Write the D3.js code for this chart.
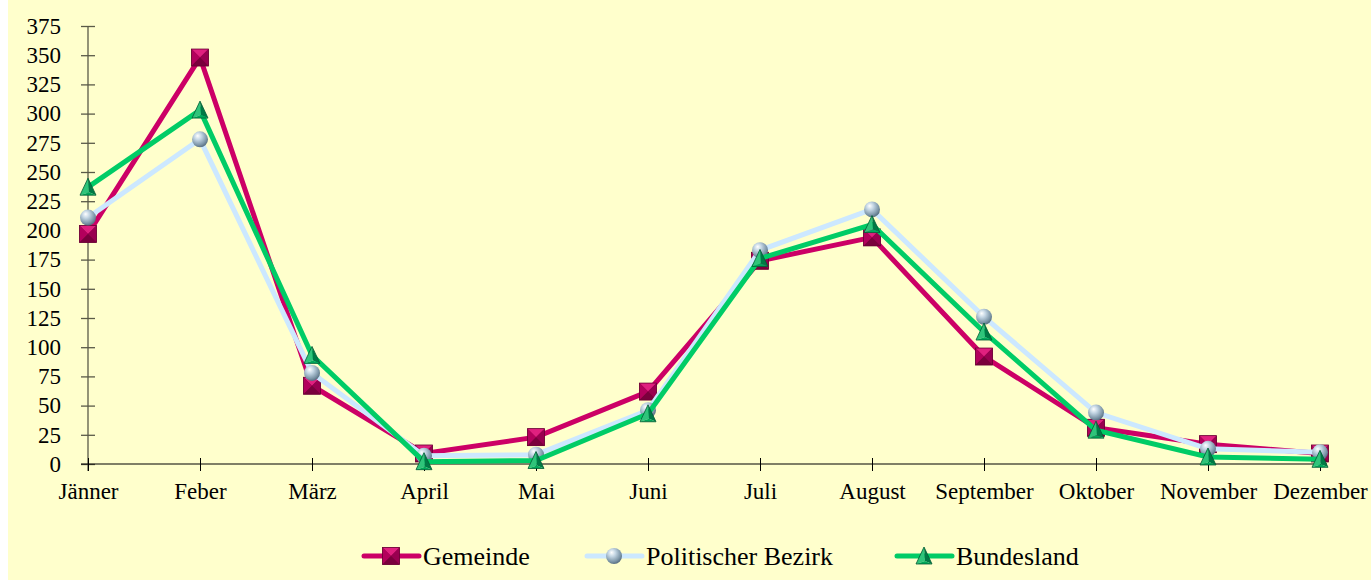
<!DOCTYPE html>
<html>
<head>
<meta charset="utf-8">
<script src="https://cdn.jsdelivr.net/npm/d3@7"></script>
<style>
  body { margin: 0; background: #fff; }
  svg { display: block; font-family: "Liberation Serif", "Times New Roman", serif; }
</style>
</head>
<body>
<div id="chart"></div>
<script>
var months = ["Jänner", "Feber", "März", "April", "Mai", "Juni", "Juli", "August", "September", "Oktober", "November", "Dezember"];
var gemeinde = [197, 348, 67, 9, 23, 62, 174, 194, 92, 31, 17, 9];
var bezirk = [211, 278, 78, 7, 8, 46, 183, 218, 126, 44, 13, 10];
var bundesland = [237, 303, 93, 2, 3, 43, 176, 205, 113, 29, 6, 4];
var yTicks = d3.range(0, 376, 25);

var width = 1371, height = 581;

var svg = d3.select('#chart')
    .append('svg')
    .attr('width', width)
    .attr('height', height);

var defs = svg.append('defs');

// background panel
svg.append('rect')
    .attr('x', 8).attr('y', 0)
    .attr('width', width - 8).attr('height', 580)
    .attr('fill', '#ffffcc');

var x = d3.scalePoint().domain(months).range([88, 1320]);
var y = d3.scaleLinear().domain([0, 375]).range([464, 26]);

// sphere gradient for the Bezirk markers
var grad = defs.append('radialGradient')
    .attr('id', 'sphere')
    .attr('cx', '40%').attr('cy', '35%').attr('r', '65%')
    .attr('fx', '35%').attr('fy', '28%');
grad.append('stop').attr('offset', '0%').attr('stop-color', '#ffffff');
grad.append('stop').attr('offset', '35%').attr('stop-color', '#c4d6e4');
grad.append('stop').attr('offset', '80%').attr('stop-color', '#7d96a8');
grad.append('stop').attr('offset', '100%').attr('stop-color', '#5b7284');

// marker shapes
function squareMarker(g, s) {
    var h = s / 2;
    g.append('rect').attr('x', -h).attr('y', -h).attr('width', s).attr('height', s).attr('fill', '#8a0044');
    g.append('polygon').attr('points', [[-h, -h], [h, -h], [0, 0]].join(' ')).attr('fill', '#e0207f');
    g.append('polygon').attr('points', [[-h, -h], [-h, h], [0, 0]].join(' ')).attr('fill', '#b3005c');
    g.append('polygon').attr('points', [[h, -h], [h, h], [0, 0]].join(' ')).attr('fill', '#990050');
    g.append('polygon').attr('points', [[-h, h], [h, h], [0, 0]].join(' ')).attr('fill', '#7a003c');
    g.append('rect').attr('x', -h).attr('y', -h).attr('width', s).attr('height', s)
        .attr('fill', 'none').attr('stroke', '#6a0034').attr('stroke-width', 0.8);
}

function sphereMarker(g, r) {
    g.append('circle').attr('r', r).attr('fill', 'url(#sphere)');
}

function triangleMarker(g, s) {
    var h = s / 2;
    g.append('polygon').attr('points', [[0, -h - 1], [-h, h], [1, h - 3]].join(' ')).attr('fill', '#2fc47a');
    g.append('polygon').attr('points', [[0, -h - 1], [1, h - 3], [h, h]].join(' ')).attr('fill', '#007a45');
    g.append('polygon').attr('points', [[-h, h], [1, h - 3], [h, h]].join(' ')).attr('fill', '#00a85a');
    g.append('polygon').attr('points', [[0, -h - 1], [-h, h], [h, h]].join(' '))
        .attr('fill', 'none').attr('stroke', '#005c33').attr('stroke-width', 0.8);
}

var series = [
    { name: 'Gemeinde', values: gemeinde, color: '#cc0066', marker: function (g) { squareMarker(g, 17); } },
    { name: 'Politischer Bezirk', values: bezirk, color: '#cce8ff', marker: function (g) { sphereMarker(g, 8); } },
    { name: 'Bundesland', values: bundesland, color: '#00cc66', marker: function (g) { triangleMarker(g, 16); } }
];

// y axis
var yAxis = svg.append('g')
    .attr('transform', 'translate(88,0)')
    .call(d3.axisLeft(y).tickValues(yTicks).tickSize(7).tickPadding(20));
yAxis.select('.domain').remove();
yAxis.selectAll('.tick line').attr('x1', 7).attr('x2', -7).attr('stroke', '#5a5a48').attr('stroke-width', 1.3);
yAxis.selectAll('.tick text')
    .attr('font-size', 23).attr('fill', '#000')
    .attr('font-family', '"Liberation Serif", serif');
yAxis.append('line')
    .attr('x1', 0).attr('x2', 0).attr('y1', y(375)).attr('y2', y(0) + 7)
    .attr('stroke', '#5a5a48').attr('stroke-width', 1.3);

// x axis
var xAxis = svg.append('g')
    .attr('transform', 'translate(0,464)')
    .call(d3.axisBottom(x).tickSize(6).tickPadding(13));
xAxis.select('.domain').remove();
xAxis.selectAll('.tick line').attr('y1', -6).attr('y2', 7).attr('stroke', '#000');
xAxis.selectAll('.tick text')
    .attr('font-size', 23).attr('fill', '#000')
    .attr('font-family', '"Liberation Serif", serif');
xAxis.append('line')
    .attr('x1', 81).attr('x2', 1327).attr('y1', 0).attr('y2', 0)
    .attr('stroke', '#000').attr('stroke-width', 1.2);

// lines and markers
var line = d3.line()
    .x(function (d, i) { return x(months[i]); })
    .y(function (d) { return y(d); });

series.forEach(function (s) {
    svg.append('path')
        .datum(s.values)
        .attr('d', line)
        .attr('fill', 'none')
        .attr('stroke', s.color)
        .attr('stroke-width', 5)
        .attr('stroke-linejoin', 'miter');
    s.values.forEach(function (v, i) {
        var g = svg.append('g').attr('transform', 'translate(' + x(months[i]) + ',' + y(v) + ')');
        s.marker(g);
    });
});

// legend
var legendX = [364, 587, 897];
var legend = svg.append('g');
series.forEach(function (s, i) {
    var g = legend.append('g').attr('transform', 'translate(' + legendX[i] + ',556)');
    g.append('line')
        .attr('x1', 0).attr('x2', 55).attr('y1', 0).attr('y2', 0)
        .attr('stroke', s.color).attr('stroke-width', 5).attr('stroke-linecap', 'round');
    var m = g.append('g').attr('transform', 'translate(27,0)');
    s.marker(m);
    g.append('text')
        .attr('x', 59).attr('y', 9)
        .attr('font-size', 26)
        .text(s.name);
});
</script>
</body>
</html>
